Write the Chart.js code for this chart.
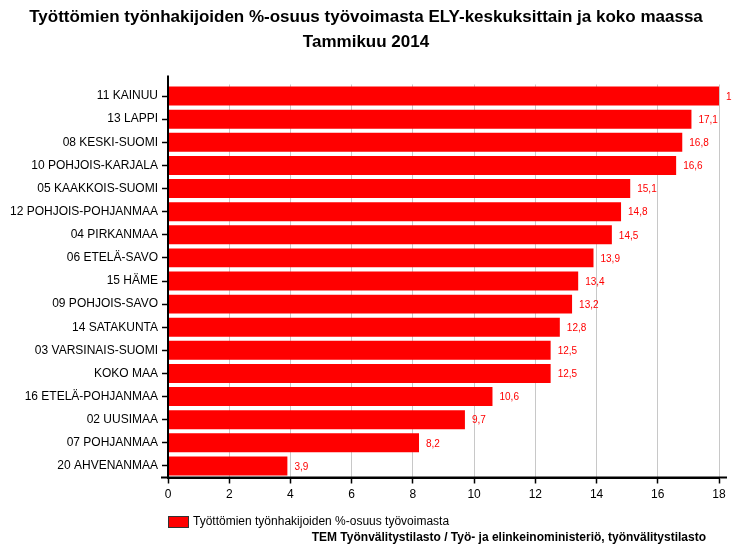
<!DOCTYPE html>
<html><head><meta charset="utf-8">
<script src="https://cdn.jsdelivr.net/npm/chart.js@4"></script>
<style>html,body{margin:0;padding:0;background:#fff}#wrap{width:732px;height:549px}</style>
</head><body><div id="wrap"><canvas id="c" width="732" height="549"></canvas></div>
<script>
const categories = ["11 KAINUU","13 LAPPI","08 KESKI-SUOMI","10 POHJOIS-KARJALA","05 KAAKKOIS-SUOMI","12 POHJOIS-POHJANMAA","04 PIRKANMAA","06 ETELÄ-SAVO","15 HÄME","09 POHJOIS-SAVO","14 SATAKUNTA","03 VARSINAIS-SUOMI","KOKO MAA","16 ETELÄ-POHJANMAA","02 UUSIMAA","07 POHJANMAA","20 AHVENANMAA"];
const values = [18.0,17.1,16.8,16.6,15.1,14.8,14.5,13.9,13.4,13.2,12.8,12.5,12.5,10.6,9.7,8.2,3.9];
const xTicks = [0,2,4,6,8,10,12,14,16,18];
const seriesName = "Työttömien työnhakijoiden %-osuus työvoimasta";
const titleLines = ["Työttömien työnhakijoiden %-osuus työvoimasta ELY-keskuksittain ja koko maassa","Tammikuu 2014"];
const sourceText = "TEM Työnvälitystilasto / Työ- ja elinkeinoministeriö, työnvälitystilasto";

const FONT = "'Liberation Sans', Arial, sans-serif";
const fmt = v => String(v).replace('.', ',');

const extras = {
  id: 'extras',
  afterDatasetsDraw(chart) {
    const ctx = chart.ctx;
    const meta = chart.getDatasetMeta(0);
    ctx.save();
    ctx.fillStyle = '#ff0000';
    ctx.font = '10px ' + FONT;
    ctx.textAlign = 'left';
    ctx.textBaseline = 'middle';
    meta.data.forEach((bar, i) => {
      ctx.fillText(fmt(values[i]), bar.x + 7, bar.y + 1);
    });
    ctx.restore();
  },
  afterDraw(chart) {
    const ctx = chart.ctx;
    const a = chart.chartArea;
    ctx.save();
    ctx.strokeStyle = '#000';
    ctx.lineWidth = 2;
    ctx.beginPath();
    ctx.moveTo(a.left, a.top - 9); ctx.lineTo(a.left, a.bottom + 1);
    ctx.moveTo(a.left - 7, a.bottom); ctx.lineTo(a.right + 8, a.bottom);
    ctx.stroke();
    ctx.fillStyle = '#000';
    ctx.textAlign = 'center';
    ctx.textBaseline = 'middle';
    ctx.font = 'bold 17px ' + FONT;
    ctx.fillText(titleLines[0], 366, 17);
    ctx.fillText(titleLines[1], 366, 42);
    ctx.fillStyle = '#ff0000';
    ctx.fillRect(168, 516, 20, 11);
    ctx.strokeStyle = '#333';
    ctx.lineWidth = 1;
    ctx.strokeRect(168.5, 516.5, 20, 11);
    ctx.fillStyle = '#000';
    ctx.textAlign = 'left';
    ctx.font = '12px ' + FONT;
    ctx.fillText(seriesName, 193, 522);
    ctx.textAlign = 'right';
    ctx.font = 'bold 12px ' + FONT;
    ctx.fillText(sourceText, 706, 538);
    ctx.restore();
  }
};

new Chart(document.getElementById('c'), {
  type: 'bar',
  data: {
    labels: categories,
    datasets: [{
      label: seriesName,
      data: values,
      backgroundColor: '#ff0000',
      borderWidth: 0,
      barPercentage: 0.82,
      categoryPercentage: 1.0
    }]
  },
  options: {
    indexAxis: 'y',
    responsive: false,
    animation: false,
    devicePixelRatio: 1,
    layout: { padding: { top: 84.5, right: 13, left: 0, bottom: 41.5 } },
    plugins: { legend: { display: false }, title: { display: false }, tooltip: { enabled: false } },
    scales: {
      x: {
        min: 0, max: 18,
        afterBuildTicks: s => { s.ticks = xTicks.map(v => ({ value: v })); },
        afterFit: s => { s.height = 30; },
        ticks: { color: '#000', font: { family: FONT, size: 12 }, padding: 4, maxRotation: 0, callback: v => v },
        grid: { color: '#c8c8c8', lineWidth: 1, drawTicks: true, tickLength: 6, tickColor: '#000', tickWidth: 1.5 },
        border: { display: true, color: '#000', width: 2 }
      },
      y: {
        afterFit: s => { s.width = 168; },
        ticks: { color: '#000', font: { family: FONT, size: 12 }, padding: 4, autoSkip: false },
        grid: { display: true, drawOnChartArea: false, drawTicks: true, tickLength: 6, tickColor: '#000', tickWidth: 1.5, offset: false },
        border: { display: true, color: '#000', width: 2 }
      }
    }
  },
  plugins: [extras]
});
</script></body></html>
